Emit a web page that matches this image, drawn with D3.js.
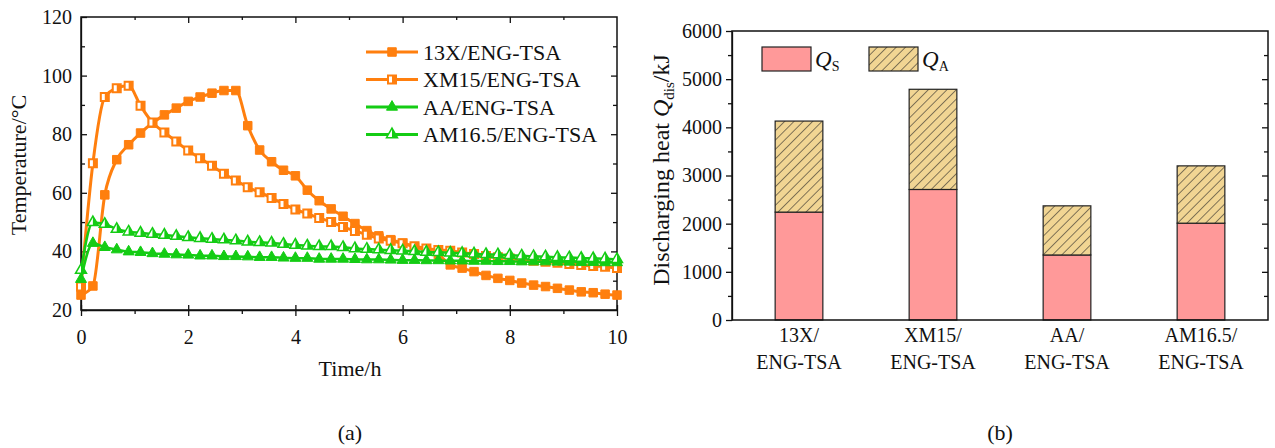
<!doctype html>
<html lang="en">
<head>
<meta charset="utf-8">
<title>Discharging temperature and heat</title>
<script src="https://cdn.jsdelivr.net/npm/d3@7"></script>
<style>
  body { margin: 0; background: #fff; }
  svg, svg text { font-family: "Liberation Serif", "Times New Roman", Times, "DejaVu Serif", serif; }
  .tick text { font-size: 20px; fill: #111; }
</style>
</head>
<body>
<svg id="chart" width="1275" height="448"></svg>
<script>
// ---- data: panel (a), one value every 10/45 h ----
var time = [0, 0.222, 0.444, 0.667, 0.889, 1.111, 1.333, 1.556, 1.778, 2, 2.222, 2.444, 2.667, 2.889, 3.111,
  3.333, 3.556, 3.778, 4, 4.222, 4.444, 4.667, 4.889, 5.111, 5.333, 5.556, 5.778, 6, 6.222, 6.444, 6.667,
  6.889, 7.111, 7.333, 7.556, 7.778, 8, 8.222, 8.444, 8.667, 8.889, 9.111, 9.333, 9.556, 9.778, 10];
var t13X = [25.1, 28.2, 59.3, 71.3, 76.4, 80.4, 83.8, 86.6, 88.9, 91.2, 92.7, 94.0, 94.9, 94.9, 82.9,
  74.6, 70.6, 67.7, 65.8, 60.9, 57.3, 54.5, 52.0, 49.5, 47.1, 45.3, 44.0, 42.8, 41.5, 40.4, 38.9,
  35.4, 34.3, 33.1, 31.8, 30.8, 30.1, 29.2, 28.5, 28.0, 27.4, 26.8, 26.2, 25.9, 25.4, 25.1];
var tXM15 = [28.0, 70.1, 92.7, 95.7, 96.5, 89.7, 84.0, 80.6, 77.5, 74.4, 71.8, 69.2, 66.5, 64.2, 61.9,
  60.2, 58.2, 56.2, 54.3, 52.9, 51.4, 50.0, 48.3, 47.0, 45.7, 44.4, 43.6, 42.8, 41.8, 41.0, 40.5,
  40.2, 39.6, 39.1, 38.4, 38.0, 37.6, 37.1, 36.8, 36.5, 36.1, 35.7, 35.4, 35.0, 34.8, 34.3];
var tAA = [30.5, 42.8, 41.4, 40.6, 39.9, 39.7, 39.3, 39.1, 38.9, 38.8, 38.5, 38.5, 38.3, 38.3, 38.2,
  38.0, 38.0, 37.8, 37.7, 37.7, 37.4, 37.4, 37.4, 37.3, 37.2, 37.2, 37.1, 37.0, 37.0, 36.9, 36.9,
  36.8, 36.8, 36.7, 36.7, 36.6, 36.6, 36.5, 36.5, 36.5, 36.4, 36.4, 36.3, 36.3, 36.2, 36.2];
var tAM = [33.6, 49.9, 49.3, 47.6, 46.7, 46.3, 45.9, 45.6, 45.2, 44.8, 44.5, 44.2, 44.0, 43.7, 43.3,
  43.1, 42.9, 42.5, 42.2, 41.9, 41.7, 41.7, 41.4, 41.0, 40.8, 40.6, 40.4, 40.2, 40.0, 39.8, 39.7,
  39.5, 39.4, 39.2, 39.0, 38.9, 38.7, 38.5, 38.3, 38.2, 38.0, 37.9, 37.7, 37.6, 37.5, 37.3];
var seriesNames = ["13X/ENG-TSA", "XM15/ENG-TSA", "AA/ENG-TSA", "AM16.5/ENG-TSA"];

// ---- data: panel (b) ----
var categories = ["13X/ENG-TSA", "XM15/ENG-TSA", "AA/ENG-TSA", "AM16.5/ENG-TSA"];
var qS = [2240, 2710, 1350, 2010];
var qA = [1890, 2080, 1020, 1190];

var orange = "#ff7f0e", green = "#14cc14";
var serif = "Liberation Serif, Times New Roman, serif";
var svg = d3.select("#chart").attr("font-family", serif);

var defs = svg.append("defs");
var pat = defs.append("pattern").attr("id", "hatch").attr("patternUnits", "userSpaceOnUse")
  .attr("width", 6.6).attr("height", 6.6).attr("patternTransform", "rotate(45)");
pat.append("rect").attr("width", 6.6).attr("height", 6.6).attr("fill", "#f1d593");
pat.append("line").attr("x1", 0).attr("y1", 0).attr("x2", 0).attr("y2", 6.6)
  .attr("stroke", "#222").attr("stroke-width", 1.1);

// marker shapes (s = size); half = right half filled
function squarePath(s) { return "M" + (-s/2) + "," + (-s/2) + "h" + s + "v" + s + "h" + (-s) + "Z"; }
function squareHalf(s) { return "M0," + (-s/2) + "h" + (s/2) + "v" + s + "h" + (-s/2) + "Z"; }
function triPath(w) { var h = w * 0.87; return "M0," + (-h*2/3) + "L" + (w/2) + "," + (h/3) + "L" + (-w/2) + "," + (h/3) + "Z"; }
function triHalf(w) { var h = w * 0.87; return "M0," + (-h*2/3) + "L" + (w/2) + "," + (h/3) + "L0," + (h/3) + "Z"; }

function drawMarker(g, kind, color) {
  if (kind == "sq") {
    g.append("path").attr("d", squarePath(8.5)).attr("fill", color).attr("stroke", color).attr("stroke-width", 1);
  } else if (kind == "sqh") {
    g.append("path").attr("d", squarePath(8)).attr("fill", "#fff").attr("stroke", color).attr("stroke-width", 2);
    g.append("path").attr("d", squareHalf(8)).attr("fill", color);
  } else if (kind == "tri") {
    g.append("path").attr("d", triPath(11)).attr("fill", color).attr("stroke", color).attr("stroke-width", 1);
  } else {
    g.append("path").attr("d", triPath(11)).attr("fill", "#fff").attr("stroke", color).attr("stroke-width", 1.5);
    g.append("path").attr("d", triHalf(11)).attr("fill", color);
  }
}
function noDomain(g) { g.select(".domain").remove(); }
function serifAxis(g) { g.attr("font-family", serif).attr("font-size", 20); }

// ================= panel (a) =================
var x = d3.scaleLinear().domain([0, 10]).range([81, 617]);
var y = d3.scaleLinear().domain([20, 120]).range([310, 17]);
var ga = svg.append("g");

var xMinor = d3.range(1, 10, 2), yMinor = d3.range(30, 120, 20);
ga.append("g").attr("transform", "translate(0,310)")
  .call(d3.axisBottom(x).tickValues(d3.range(0, 11, 2)).tickSizeInner(6).tickSizeOuter(0).tickPadding(14))
  .call(serifAxis);
ga.append("g").attr("transform", "translate(0,310)")
  .call(d3.axisBottom(x).tickValues(d3.range(0, 11, 2)).tickSize(-5).tickFormat("")).call(noDomain);
ga.append("g").attr("transform", "translate(0,310)")
  .call(d3.axisBottom(x).tickValues(xMinor).tickSize(4).tickFormat("")).call(noDomain);
ga.append("g").attr("transform", "translate(0,17)")
  .call(d3.axisTop(x).tickValues(d3.range(2, 10, 2)).tickSize(-6).tickFormat("")).call(noDomain);
ga.append("g").attr("transform", "translate(0,17)")
  .call(d3.axisTop(x).tickValues(xMinor).tickSize(-3).tickFormat("")).call(noDomain);
ga.append("g").attr("transform", "translate(81,0)")
  .call(d3.axisLeft(y).tickValues(d3.range(20, 121, 20)).tickSizeInner(-6).tickSizeOuter(0).tickPadding(9))
  .call(serifAxis);
ga.append("g").attr("transform", "translate(81,0)")
  .call(d3.axisLeft(y).tickValues(yMinor).tickSize(-4).tickFormat("")).call(noDomain);
ga.append("g").attr("transform", "translate(617,0)")
  .call(d3.axisRight(y).tickValues(d3.range(40, 120, 20)).tickSize(-6).tickFormat("")).call(noDomain);
ga.append("g").attr("transform", "translate(617,0)")
  .call(d3.axisRight(y).tickValues(yMinor).tickSize(-4).tickFormat("")).call(noDomain);
ga.selectAll(".domain, .tick line").attr("stroke", "#111").attr("stroke-width", 1.3);
ga.append("rect").attr("x", 81).attr("y", 17).attr("width", 536).attr("height", 293)
  .attr("fill", "none").attr("stroke", "#111").attr("stroke-width", 1.5);

var allSeries = [
  {name: seriesNames[0], vals: t13X, color: orange, kind: "sq"},
  {name: seriesNames[1], vals: tXM15, color: orange, kind: "sqh"},
  {name: seriesNames[2], vals: tAA, color: green, kind: "tri"},
  {name: seriesNames[3], vals: tAM, color: green, kind: "trih"}
];
var line = d3.line().x(function(d) { return x(d[0]); }).y(function(d) { return y(d[1]); }).curve(d3.curveMonotoneX);
var plot = ga.append("g");
allSeries.forEach(function(s) {
  var pts = time.map(function(t, i) { return [t, s.vals[i]]; });
  plot.append("path").attr("d", line(pts)).attr("fill", "none")
    .attr("stroke", s.color).attr("stroke-width", s.kind.indexOf("sq") == 0 ? 3 : 2.5);
  pts.forEach(function(p) {
    var m = plot.append("g").attr("transform", "translate(" + x(p[0]) + "," + y(p[1]) + ")");
    drawMarker(m, s.kind, s.color);
  });
});

// legend (a)
allSeries.forEach(function(s, i) {
  var ly = 52 + i * 27.5;
  ga.append("line").attr("x1", 366).attr("x2", 418).attr("y1", ly).attr("y2", ly)
    .attr("stroke", s.color).attr("stroke-width", 3);
  drawMarker(ga.append("g").attr("transform", "translate(392," + ly + ")"), s.kind, s.color);
  ga.append("text").attr("x", 423).attr("y", ly).attr("dy", "0.35em")
    .attr("font-size", 22).attr("fill", "#111").text(s.name);
});

ga.append("text").attr("x", 350).attr("y", 376).attr("text-anchor", "middle")
  .attr("font-size", 22).attr("fill", "#111").text("Time/h");
ga.append("text").attr("transform", "translate(26,165) rotate(-90)").attr("text-anchor", "middle")
  .attr("font-size", 22).attr("fill", "#111").text("Temperature/°C");
ga.append("text").attr("x", 350).attr("y", 440).attr("text-anchor", "middle")
  .attr("font-size", 22).attr("fill", "#111").text("(a)");

// ================= panel (b) =================
var table = categories.map(function(c, i) { return {cat: c, qs: qS[i], qa: qA[i]}; });
var stacked = d3.stack().keys(["qs", "qa"])(table);
var xb = d3.scaleBand().domain(categories).range([732, 1268]).paddingInner(0.644).paddingOuter(0.322);
var yb = d3.scaleLinear().domain([0, 6000]).range([320, 31]);
var gb = svg.append("g");

var yMinorB = d3.range(500, 6000, 1000);
gb.append("g").attr("transform", "translate(732,0)")
  .call(d3.axisLeft(yb).tickValues(d3.range(0, 6001, 1000)).tickFormat(d3.format("d"))
    .tickSizeInner(6).tickSizeOuter(0).tickPadding(4))
  .call(serifAxis);
gb.append("g").attr("transform", "translate(732,0)")
  .call(d3.axisLeft(yb).tickValues(yMinorB).tickSize(4).tickFormat("")).call(noDomain);
gb.append("g").attr("transform", "translate(1268,0)")
  .call(d3.axisRight(yb).tickValues(d3.range(1000, 6000, 1000)).tickSize(-6).tickFormat("")).call(noDomain);
gb.append("g").attr("transform", "translate(1268,0)")
  .call(d3.axisRight(yb).tickValues(yMinorB).tickSize(-4).tickFormat("")).call(noDomain);
gb.selectAll(".domain, .tick line").attr("stroke", "#111").attr("stroke-width", 1.3);

var fills = {qs: "#ff9999", qa: "url(#hatch)"};
stacked.forEach(function(layer) {
  gb.append("g").selectAll("rect").data(layer).join("rect")
    .attr("x", function(d) { return xb(d.data.cat); })
    .attr("y", function(d) { return yb(d[1]); })
    .attr("width", xb.bandwidth())
    .attr("height", function(d) { return yb(d[0]) - yb(d[1]); })
    .attr("fill", fills[layer.key]).attr("stroke", "#222").attr("stroke-width", 1.2);
});
gb.append("rect").attr("x", 732).attr("y", 31).attr("width", 536).attr("height", 289)
  .attr("fill", "none").attr("stroke", "#111").attr("stroke-width", 1.5);

// category labels on two lines
categories.forEach(function(c) {
  var parts = c.split("/");
  var t = gb.append("text").attr("text-anchor", "middle").attr("font-size", 20).attr("fill", "#111");
  t.append("tspan").attr("x", xb(c) + xb.bandwidth() / 2).attr("y", 342).text(parts[0] + "/");
  t.append("tspan").attr("x", xb(c) + xb.bandwidth() / 2).attr("y", 369).text(parts[1]);
});

// legend (b)
var legB = [{key: "qs", sub: "S", x: 762}, {key: "qa", sub: "A", x: 869}];
legB.forEach(function(l) {
  gb.append("rect").attr("x", l.x).attr("y", 47).attr("width", 49).attr("height", 24)
    .attr("fill", fills[l.key]).attr("stroke", "#222").attr("stroke-width", 1.2);
  var t = gb.append("text").attr("x", l.x + 53).attr("y", 67).attr("font-size", 23).attr("fill", "#111");
  t.append("tspan").attr("font-style", "italic").text("Q");
  t.append("tspan").attr("font-size", 14).attr("dy", 4).text(l.sub);
});

var yt = gb.append("text").attr("transform", "translate(669,170) rotate(-90)").attr("text-anchor", "middle")
  .attr("font-size", 24).attr("fill", "#111");
yt.append("tspan").text("Discharging heat ");
yt.append("tspan").attr("font-style", "italic").text("Q");
yt.append("tspan").attr("font-size", 15).attr("dy", 5).text("dis");
yt.append("tspan").attr("dy", -5).text("/kJ");

gb.append("text").attr("x", 1000).attr("y", 440).attr("text-anchor", "middle")
  .attr("font-size", 22).attr("fill", "#111").text("(b)");
</script>
</body>
</html>
